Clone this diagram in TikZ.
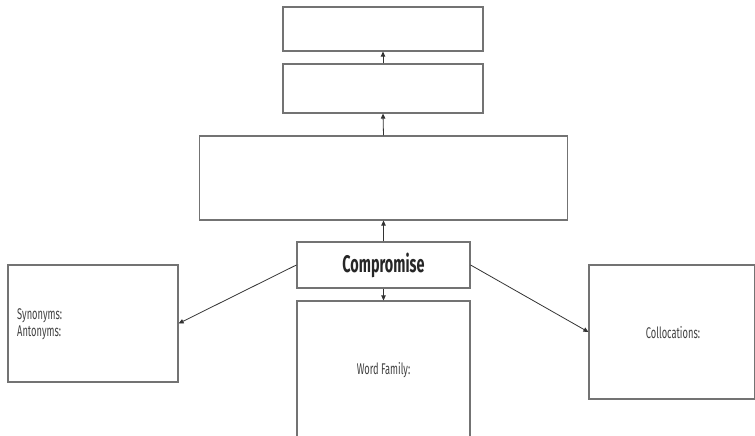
\documentclass[tikz,border=0pt]{standalone}
\usepackage{fontspec}
\setmainfont{Fira Sans}
\newfontfamily\cond[FakeStretch=0.6]{Fira Sans}
\usetikzlibrary{arrows.meta}
\begin{document}
\begin{tikzpicture}[x=1pt,y=-1pt,
  card/.style={draw=black!55,line width=1.2pt,inner sep=0pt},
  link/.style={draw=black!80,line width=0.8pt,-{Triangle[length=5pt,width=4.5pt]}},
  lbl/.style={font=\cond\fontsize{15.5}{17}\selectfont,text=black!75}]
\useasboundingbox (0,0) rectangle (755,436);
% boxes, given by corners
\node[card,minimum width=200pt,minimum height=44pt] (top) at (383,29) {};
\node[card,minimum width=200pt,minimum height=49pt] (second) at (383,88.5) {};
\node[card,minimum width=368pt,minimum height=84pt] (wide) at (383.5,178) {};
\node[card,minimum width=173pt,minimum height=46pt,font=\cond\bfseries\fontsize{24}{26}\selectfont,text=black!85] (word) at (383.5,265) {Compromise};
\node[card,minimum width=170pt,minimum height=117pt] (syn) at (93,323.5) {};
\node[card,minimum width=173pt,minimum height=140pt] (fam) at (383.5,371) {};
\node[card,minimum width=166pt,minimum height=134pt] (col) at (672,332) {};
% labels inside the boxes
\node[lbl,anchor=west,align=left,inner sep=0pt] (synlbl) at (17,324) {Synonyms:\\Antonyms:};
\node[lbl] (famlbl) at (383.5,370) {Word Family:};
\node[lbl] (collbl) at (673,333) {Collocations:};
% connectors
\draw[link] (second.north) -- (top.south);
\draw[link] (wide.north) -- (second.south);
\draw[link] (word.north) -- (wide.south);
\draw[link] (word.south) -- (fam.north);
\draw[link] (word.west) -- (syn.east);
\draw[link] (word.east) -- (col.west);
\end{tikzpicture}
\end{document}
